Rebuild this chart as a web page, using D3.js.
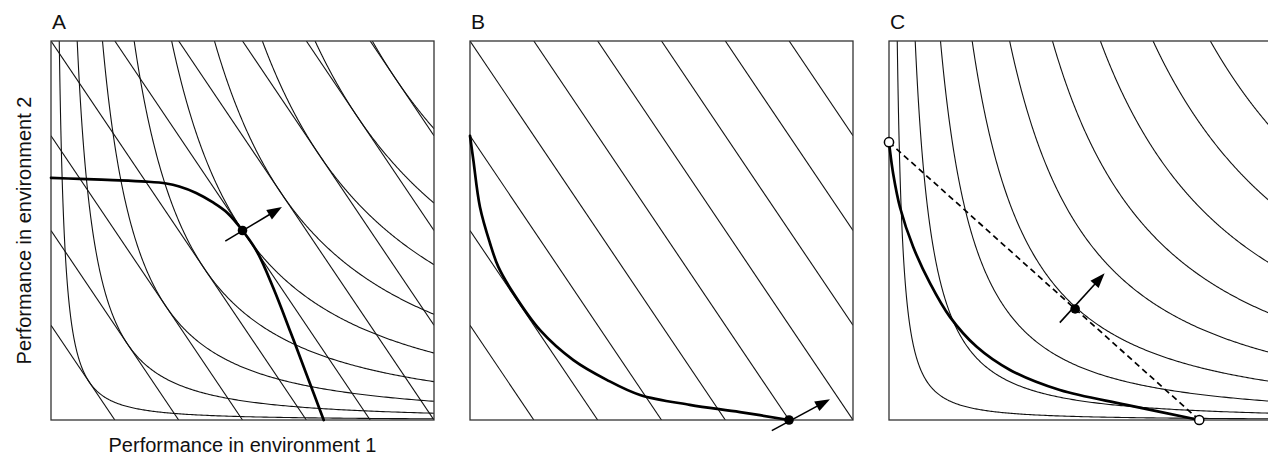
<!DOCTYPE html>
<html>
<head>
<meta charset="utf-8">
<script src="https://cdn.jsdelivr.net/npm/d3@7"></script>
<style>
  body { margin: 0; background: #fff; }
  svg { display: block; font-family: "Liberation Sans", Arial, Helvetica, sans-serif; }
</style>
</head>
<body>
<svg id="chart" width="1268" height="463"></svg>
<script>
"use strict";

// panel letters
const panelNames = ["A", "B", "C"];

// axis titles
const xTitle = "Performance in environment 1";
const yTitle = "Performance in environment 2";

// levels of the geometric-mean fitness contours  x^0.6 * y^0.4 = k
const geoLevels = [0.1, 0.2, 0.3, 0.4, 0.5, 0.6, 0.7, 0.8, 0.9];
const geoWeight = 0.6;

// levels of the arithmetic-mean fitness contours  1.5 x + y = c
const arithLevels = [0.25, 0.5, 0.75, 1.0, 1.25, 1.5, 1.75, 2.0, 2.25];
const arithWeight = 1.5;

// fitness sets (thick curves)
const fitnessSetA = [[0, 0.639], [0.074, 0.636], [0.161, 0.633], [0.248, 0.629], [0.301, 0.624],
  [0.335, 0.616], [0.379, 0.599], [0.423, 0.574], [0.46, 0.547], [0.5, 0.5], [0.538, 0.444],
  [0.581, 0.347], [0.625, 0.233], [0.668, 0.118], [0.712, 0]];
const fitnessSetB = [[0, 0.75], [0.0087, 0.686], [0.026, 0.562], [0.052, 0.467], [0.074, 0.404],
  [0.113, 0.335], [0.183, 0.237], [0.27, 0.158], [0.357, 0.106], [0.444, 0.066], [0.574, 0.04],
  [0.705, 0.021], [0.833, 0]];
const fitnessSetC = [[0, 0.733], [0.002, 0.715], [0.011, 0.649], [0.029, 0.56], [0.063, 0.457],
  [0.107, 0.361], [0.159, 0.272], [0.229, 0.193], [0.316, 0.132], [0.446, 0.079], [0.62, 0.04],
  [0.81, 0]];

// optimum points
const optimumA = [0.5, 0.5];
const optimumB = [0.833, 0];
const optimumC = [0.486, 0.293];

// selection arrows [tail, tip]
const arrowA = [[0.455, 0.472], [0.603, 0.562]];
const arrowB = [[0.788, -0.028], [0.94, 0.055]];
const arrowC = [[0.446, 0.257], [0.563, 0.387]];

// specialists joined by the dashed line in C
const specialistsC = [[0, 0.733], [0.81, 0]];

const svg = d3.select("#chart");

// panel geometry
const W = 383, H = 379, panelTop = 41;
const lefts = [51, 470, 889];

const x = d3.scaleLinear().domain([0, 1]).range([0, W]);
const y = d3.scaleLinear().domain([0, 1]).range([H, 0]);

const line = d3.line().x(d => x(d[0])).y(d => y(d[1]));
const smooth = d3.line().x(d => x(d[0])).y(d => y(d[1])).curve(d3.curveCatmullRom.alpha(0.5));

// one contour of x^w y^(1-w) = k, from the top edge to the right edge
function geoContour(k) {
    const x0 = Math.pow(k, 1 / geoWeight);
    return d3.range(0, 301).map(function(i) {
        const xv = x0 * Math.pow(1 / x0, i / 300);
        return [xv, Math.pow(k / Math.pow(xv, geoWeight), 1 / (1 - geoWeight))];
    });
}

// one line of arithWeight*x + y = c, clipped to the box
function arithContour(c) {
    const x0 = Math.max(0, (c - 1) / arithWeight);
    const x1 = Math.min(1, c / arithWeight);
    return [[x0, c - arithWeight * x0], [x1, c - arithWeight * x1]];
}

const panels = [
    { name: "A", arith: true, geo: true, set: fitnessSetA, opt: optimumA, arrow: arrowA },
    { name: "B", arith: true, geo: false, set: fitnessSetB, opt: optimumB, arrow: arrowB },
    { name: "C", arith: false, geo: true, set: fitnessSetC, opt: optimumC, arrow: arrowC }
];

panels.forEach(function(p, i) {
    const g = svg.append("g").attr("transform", "translate(" + lefts[i] + "," + panelTop + ")");

    g.append("clipPath").attr("id", "clip" + i)
        .append("rect").attr("x", 0).attr("y", 0).attr("width", W).attr("height", H);

    const inner = g.append("g").attr("clip-path", "url(#clip" + i + ")");

    if (p.arith) {
        inner.selectAll(".arith").data(arithLevels).enter().append("path")
            .attr("d", c => line(arithContour(c)))
            .attr("fill", "none").attr("stroke", "#111").attr("stroke-width", 1.1);
    }
    if (p.geo) {
        inner.selectAll(".geo").data(geoLevels).enter().append("path")
            .attr("d", k => line(geoContour(k)))
            .attr("fill", "none").attr("stroke", "#111").attr("stroke-width", 1.1);
    }

    // box
    g.append("rect").attr("x", 0).attr("y", 0).attr("width", W).attr("height", H)
        .attr("fill", "none").attr("stroke", "#333").attr("stroke-width", 1.3);

    // fitness set
    g.append("path").attr("d", smooth(p.set))
        .attr("fill", "none").attr("stroke", "#000").attr("stroke-width", 2.7)
        .attr("stroke-linecap", "round");

    if (p.name === "C") {
        g.append("path").attr("d", line(specialistsC))
            .attr("fill", "none").attr("stroke", "#000").attr("stroke-width", 1.7)
            .attr("stroke-dasharray", "6,4");
    }

    // arrow
    const t0 = [x(p.arrow[0][0]), y(p.arrow[0][1])];
    const t1 = [x(p.arrow[1][0]), y(p.arrow[1][1])];
    const len = Math.hypot(t1[0] - t0[0], t1[1] - t0[1]);
    const u = [(t1[0] - t0[0]) / len, (t1[1] - t0[1]) / len];
    const n = [-u[1], u[0]];
    const hl = 15, hw = 5.5;
    g.append("line")
        .attr("x1", t0[0]).attr("y1", t0[1])
        .attr("x2", t1[0] - u[0] * (hl - 2)).attr("y2", t1[1] - u[1] * (hl - 2))
        .attr("stroke", "#000").attr("stroke-width", 1.6);
    g.append("path")
        .attr("d", "M" + t1[0] + "," + t1[1] +
            "L" + (t1[0] - u[0] * hl + n[0] * hw) + "," + (t1[1] - u[1] * hl + n[1] * hw) +
            "L" + (t1[0] - u[0] * hl - n[0] * hw) + "," + (t1[1] - u[1] * hl - n[1] * hw) + "Z")
        .attr("fill", "#000");

    // optimum
    g.append("circle").attr("cx", x(p.opt[0])).attr("cy", y(p.opt[1])).attr("r", 4.8)
        .attr("fill", "#000");

    if (p.name === "C") {
        g.selectAll(".spec").data(specialistsC).enter().append("circle")
            .attr("cx", d => x(d[0])).attr("cy", d => y(d[1])).attr("r", 4.6)
            .attr("fill", "#fff").attr("stroke", "#000").attr("stroke-width", 1.5);
    }

    // panel letter
    g.append("text").attr("x", 1).attr("y", -12)
        .attr("font-size", 21).attr("fill", "#111").text(panelNames[i]);
});

// axis titles (only on panel A)
svg.append("text")
    .attr("x", lefts[0] + W / 2).attr("y", 452)
    .attr("text-anchor", "middle").attr("font-size", 20).attr("fill", "#111")
    .text(xTitle);

svg.append("text")
    .attr("transform", "translate(31," + (panelTop + H / 2) + ") rotate(-90)")
    .attr("text-anchor", "middle").attr("font-size", 20).attr("fill", "#111")
    .text(yTitle);
</script>
</body>
</html>
